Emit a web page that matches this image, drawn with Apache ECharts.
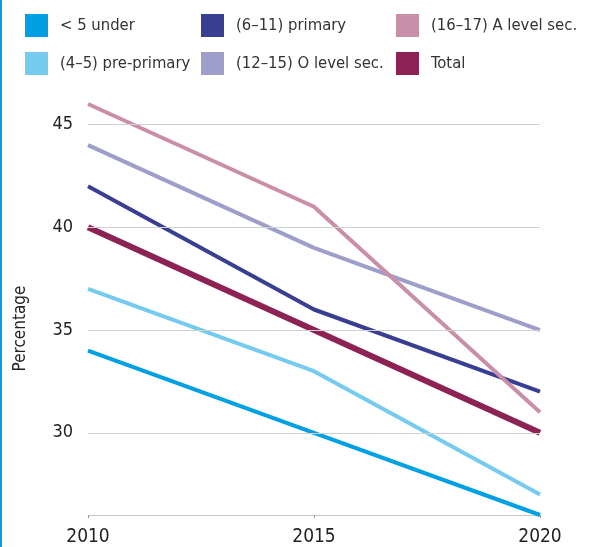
<!DOCTYPE html>
<html>
<head>
<meta charset="utf-8">
<script src="https://cdn.jsdelivr.net/npm/echarts@6/dist/echarts.min.js"></script>
<style>
  html, body { margin: 0; padding: 0; background: #fff; }
  #chart { width: 590px; height: 547px; }
</style>
</head>
<body>
<div id="chart"></div>
<script>
const years = ['2010', '2015', '2020']
const yTicks = [30, 35, 40, 45]

const underFive = [34, 30, 26]
const prePrimary = [37, 33, 27]
const primary = [42, 36, 32]
const oLevel = [44, 39, 35]
const aLevel = [46, 41, 31]
const total = [40, 35, 30]

const font = '"DejaVu Sans Condensed", "Liberation Sans Narrow", Roboto, sans-serif'

const chart = echarts.init(document.getElementById('chart'))

function line(name, data, color, width) {
  return {
    name: name,
    type: 'line',
    data: data,
    symbol: 'none',
    color: color,
    lineStyle: { color: color, width: width, cap: 'butt' },
    z: name === 'Total' ? 3 : 2
  }
}

// one legend per column, two rows each
function legendCol(left, names) {
  return {
    orient: 'vertical',
    left: left,
    top: 14,
    padding: 0,
    itemWidth: 23,
    itemHeight: 23,
    itemGap: 15,
    icon: 'rect',
    data: names,
    textStyle: { fontFamily: font, fontSize: 16.5, color: '#333', padding: [0, 0, 0, 7] }
  }
}

chart.setOption({
  animation: false,
  textStyle: { fontFamily: font },
  graphic: [
    { type: 'rect', shape: { x: 0, y: 0, width: 2, height: 547 }, style: { fill: '#00a0e3' } }
  ],
  legend: [
    legendCol(25, ['< 5 under', '(4–5) pre-primary']),
    legendCol(201, ['(6–11) primary', '(12–15) O level sec.']),
    legendCol(396, ['(16–17) A level sec.', 'Total'])
  ],
  grid: { left: 88, right: 50, top: 104, bottom: 31 },
  xAxis: {
    type: 'category',
    data: years,
    boundaryGap: false,
    axisLine: { lineStyle: { color: '#c8c8c8', width: 1 } },
    axisTick: { show: true, length: 3, lineStyle: { color: '#999' } },
    axisLabel: { color: '#222', fontSize: 19, margin: 13 }
  },
  yAxis: {
    type: 'value',
    min: 26,
    max: 46,
    name: 'Percentage',
    nameLocation: 'middle',
    nameGap: 59,
    nameTextStyle: { color: '#222', fontSize: 17, padding: [0, 0, 0, -38] },
    axisLine: { show: false },
    axisTick: { show: false, customValues: yTicks },
    axisLabel: { color: '#222', fontSize: 18, margin: 15, customValues: yTicks },
    splitLine: { show: false }
  },
  series: [
    line('< 5 under', underFive, '#00a0e3', 4),
    line('(4–5) pre-primary', prePrimary, '#74cbee', 4),
    line('(6–11) primary', primary, '#383f92', 4),
    line('(12–15) O level sec.', oLevel, '#9d9ec9', 4),
    line('(16–17) A level sec.', aLevel, '#c98fa9', 4),
    line('Total', total, '#8c2354', 6),
    {
      type: 'line',
      data: [],
      silent: true,
      markLine: {
        symbol: 'none',
        silent: true,
        label: { show: false },
        lineStyle: { color: '#d0d0d0', width: 1, type: 'solid' },
        data: yTicks.map(v => ({ yAxis: v }))
      },
      z: 1
    }
  ]
})
</script>
</body>
</html>
